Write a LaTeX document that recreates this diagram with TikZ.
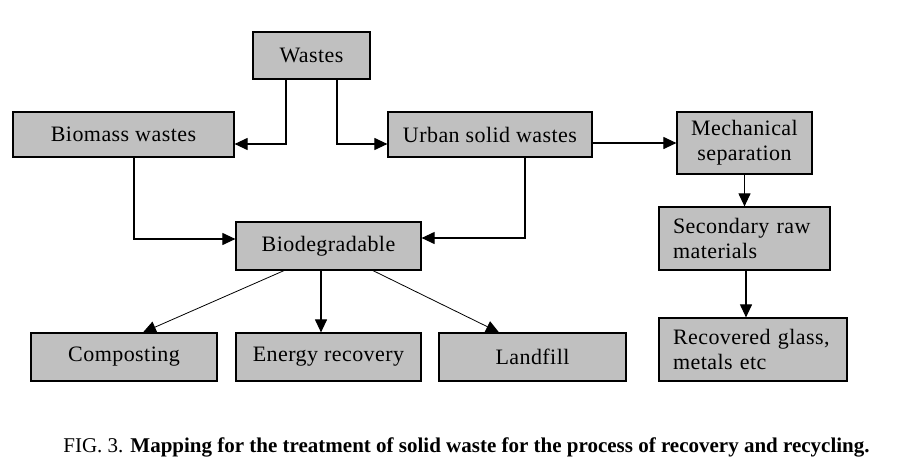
\documentclass[tikz,border=0pt]{standalone}
\usepackage{fontspec}
\setmainfont{Liberation Serif}
\usetikzlibrary{arrows.meta}
\begin{document}
\begin{tikzpicture}[x=1pt,y=1pt,
  box/.style={draw=black,line width=1.2pt,fill={rgb,255:red,192;green,192;blue,192},
    inner sep=0pt,font=\fontsize{22}{25}\selectfont\addfontfeature{LetterSpace=2}},
  conn/.style={line width=1.1pt,-{Triangle[length=13pt,width=12pt]}},
  thin conn/.style={line width=0.8pt,-{Triangle[length=13pt,width=12pt]}}]
\useasboundingbox[fill=white] (0,0) rectangle (920,-474);
\node[box,minimum width=117pt,minimum height=47pt] (wastes) at (311.5,-55.5) {Wastes};
\node[box,minimum width=221pt,minimum height=45pt] (biomass) at (123.5,-134.5) {Biomass wastes};
\node[box,minimum width=204pt,minimum height=45pt] (urban) at (490,-134.5) {Urban solid wastes};
\node[box,minimum width=135pt,minimum height=62pt,align=center] (mech) at (744.5,-143) {Mechanical\\separation};
\node[box,minimum width=185pt,minimum height=48pt] (biodeg) at (328.5,-246) {Biodegradable};
\node[box,text width=143pt,inner xsep=14pt,minimum height=63pt,align=left] (second) at (744.5,-238.5) {Secondary raw\\materials};
\node[box,minimum width=186pt,minimum height=48pt] (compost) at (124,-357) {Composting};
\node[box,minimum width=185pt,minimum height=48pt] (energy) at (328.5,-357) {Energy recovery};
\node[box,minimum width=187pt,minimum height=48pt] (landfill) at (532.5,-357) {Landfill};
\node[box,text width=160pt,inner xsep=14pt,minimum height=63pt,align=left] (recov) at (753,-349.5) {Recovered glass,\\metals etc};
\draw[conn] ([xshift=-25.5pt]wastes.south) |- ([yshift=-9.5pt]biomass.east);
\draw[conn] ([xshift=25.5pt]wastes.south) |- ([yshift=-9.5pt]urban.west);
\draw[conn] (urban.east |- mech.west) -- (mech.west);
\draw[conn] ([xshift=10.5pt]biomass.south) |- ([yshift=7pt]biodeg.west);
\draw[conn] ([xshift=35pt]urban.south) |- ([yshift=8pt]biodeg.east);
\draw[conn] (mech.south) -- (second.north);
\draw[conn] ([xshift=1.5pt]second.south) -- ([xshift=-7pt]recov.north);
\draw[conn] ([xshift=-7.5pt]biodeg.south) -- ([xshift=-7.5pt]energy.north);
\draw[thin conn] ([xshift=-44.5pt]biodeg.south) -- ([xshift=19pt]compost.north);
\draw[thin conn] ([xshift=44.5pt]biodeg.south) -- ([xshift=-33.5pt]landfill.north);
\node[font=\fontsize{21}{24}\selectfont] (caption) at (466.5,-447) {FIG. 3. \textbf{Mapping for the treatment of solid waste for the process of recovery and recycling.}};
\end{tikzpicture}
\end{document}
